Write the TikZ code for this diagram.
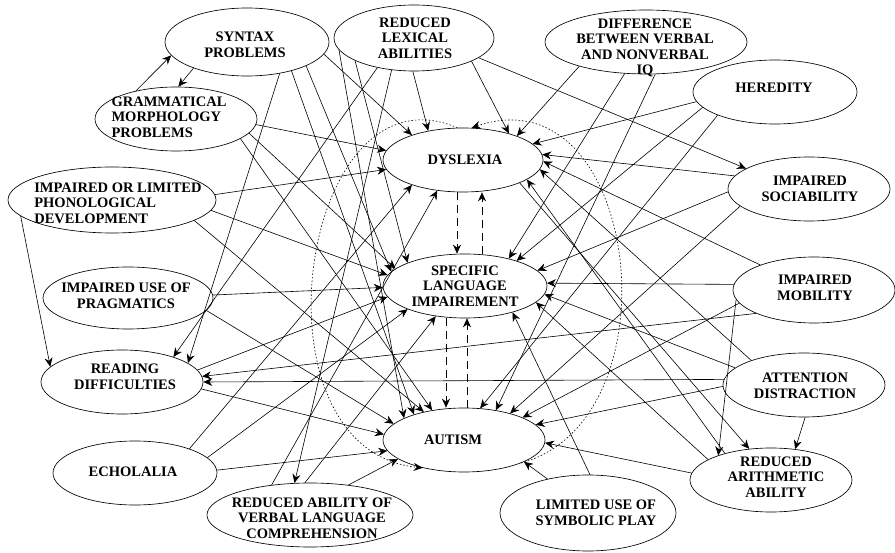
\documentclass[tikz,border=0pt]{standalone}
\usepackage{fontspec}
\setmainfont{Liberation Serif}
\usetikzlibrary{shapes.geometric,arrows.meta}
\begin{document}
\begin{tikzpicture}[x=1pt,y=-1pt,
  ell/.style={draw,ellipse,line width=0.65pt,inner sep=0pt},
  lbl/.style={font=\fontsize{14.5}{15.5}\selectfont\bfseries,align=center,inner sep=0pt},
  lbll/.style={lbl,align=left},
  arr/.style={line width=0.6pt,-{Stealth[length=9pt,width=8pt,inset=3pt]}},
  dsh/.style={arr,dash pattern=on 8pt off 5pt},
  dotarc/.style={arr,dash pattern=on 1.5pt off 2pt}]
\useasboundingbox (0,0) rectangle (895,553);
% ellipses
\node[ell,minimum width=164pt,minimum height=68pt] (syn) at (247,42) {};
\node[ell,minimum width=160pt,minimum height=66pt] (lex) at (414,38) {};
\node[ell,minimum width=202pt,minimum height=64pt] (diq) at (646,42) {};
\node[ell,minimum width=164pt,minimum height=64pt] (her) at (775,92) {};
\node[ell,minimum width=162pt,minimum height=64pt] (gram) at (176,119) {};
\node[ell,minimum width=160pt,minimum height=64pt] (dys) at (463,160) {};
\node[ell,minimum width=208pt,minimum height=66pt] (phon) at (112,200) {};
\node[ell,minimum width=162pt,minimum height=64pt] (soc) at (809,189) {};
\node[ell,minimum width=164pt,minimum height=64pt] (sli) at (465,286) {};
\node[ell,minimum width=170pt,minimum height=62pt] (prag) at (128,298) {};
\node[ell,minimum width=162pt,minimum height=66pt] (mob) at (814,290) {};
\node[ell,minimum width=162pt,minimum height=64pt] (read) at (122,382) {};
\node[ell,minimum width=162pt,minimum height=64pt] (att) at (804,385) {};
\node[ell,minimum width=162pt,minimum height=64pt] (aut) at (464,440) {};
\node[ell,minimum width=164pt,minimum height=64pt] (echo) at (135,473) {};
\node[ell,minimum width=206pt,minimum height=64pt] (comp) at (310,515) {};
\node[ell,minimum width=176pt,minimum height=76pt] (sym) at (588,513) {};
\node[ell,minimum width=162pt,minimum height=64pt] (ari) at (771,480) {};
% labels
\node[lbl] (syn-t) at (245,45) {SYNTAX\\PROBLEMS};
\node[lbl] (lex-t) at (415,38) {REDUCED\\LEXICAL\\ABILITIES};
\node[lbl] (diq-t) at (645,48) {DIFFERENCE\\BETWEEN VERBAL\\AND NONVERBAL\\IQ};
\node[lbl] (her-t) at (774,88) {HEREDITY};
\node[lbll] (gram-t) at (169,117) {GRAMMATICAL\\MORPHOLOGY\\PROBLEMS};
\node[lbl] (dys-t) at (465,160) {DYSLEXIA};
\node[lbll] (phon-t) at (118,203) {IMPAIRED OR LIMITED\\PHONOLOGICAL\\DEVELOPMENT};
\node[lbl] (soc-t) at (810,189) {IMPAIRED\\SOCIABILITY};
\node[lbl] (sli-t) at (465,286) {SPECIFIC\\LANGUAGE\\IMPAIREMENT};
\node[lbl] (prag-t) at (126,296) {IMPAIRED USE OF\\PRAGMATICS};
\node[lbl] (mob-t) at (815,288) {IMPAIRED\\MOBILITY};
\node[lbl] (read-t) at (125,377) {READING\\DIFFICULTIES};
\node[lbl] (att-t) at (805,386) {ATTENTION\\DISTRACTION};
\node[lbl] (aut-t) at (453,440) {AUTISM};
\node[lbl] (echo-t) at (133,472) {ECHOLALIA};
\node[lbl] (comp-t) at (312,518) {REDUCED ABILITY OF\\VERBAL LANGUAGE\\COMPREHENSION};
\node[lbl] (sym-t) at (596,513) {LIMITED USE OF\\SYMBOLIC PLAY};
\node[lbl] (ari-t) at (776,477) {REDUCED\\ARITHMETIC\\ABILITY};
% connectors
\draw[arr] (syn.206) -- (gram.86);
\draw[arr] (gram.145) -- (syn.190);
\draw[arr] (syn.-9) -- (dys.154);
\draw[arr] (syn.-44) -- (read.16);
\draw[arr] (syn.-22) -- (sli.169);
\draw[arr] (syn.-33) -- (aut.153);
\draw[arr] (lex.268) -- (dys.140);
\draw[arr] (lex.-22) -- (dys.30);
\draw[arr] (lex.-17) -- (soc.162);
\draw[arr] (lex.189) -- (aut.160);
\draw[arr] (lex.201) -- (sli.158);
\draw[arr] (lex.219) -- (read.26);
\draw[arr] (lex.235) -- (comp.116);
\draw[arr] (gram.-4) -- (dys.173);
\draw[arr] (gram.-17) -- (aut.137);
\draw[arr] (gram.-11) -- (sli.166);
\draw[arr] (phon.3) -- (dys.187);
\draw[arr] (phon.-6) -- (sli.172);
\draw[arr] (phon.190) -- (read.168);
\draw[arr] (phon.-14) -- (aut.145);
\draw[arr] (prag.2) -- (sli.181);
\draw[arr] (prag.-9) -- (aut.167);
\draw[arr] (read.9) -- (sli.188);
\draw[arr] (read.-5) -- (aut.176);
\draw[arr] (echo.2) -- (aut.188);
\draw[arr] (echo.12) -- (sli.202);
\draw[arr] (echo.24) -- (dys.206);
\draw[arr] (comp.142) -- (dys.230);
\draw[arr] (comp.99) -- (sli.226);
\draw[arr] (comp.38) -- (aut.196);
\draw[arr] (diq.200) -- (dys.24);
\draw[arr] (diq.236) -- (sli.32);
\draw[arr] (diq.286) -- (aut.43);
\draw[arr] (her.187) -- (dys.13);
\draw[arr] (her.192) -- (sli.26);
\draw[arr] (her.202) -- (aut.63);
\draw[arr] (soc.170) -- (dys.4);
\draw[arr] (soc.182) -- (sli.12);
\draw[arr] (soc.194) -- (aut.30);
\draw[arr] (mob.176) -- (sli.2);
\draw[arr] (mob.187) -- (ari.155);
\draw[arr] (mob.202) -- (read.4);
\draw[arr] (mob.190) -- (aut.21);
\draw[arr] (mob.155) -- (dys.-1);
\draw[arr] (att.176) -- (read.0);
\draw[arr] (att.181) -- (aut.12);
\draw[arr] (att.272) -- (ari.52);
\draw[arr] (att.166) -- (sli.-6);
\draw[arr] (att.155) -- (dys.-7);
\draw[arr] (ari.175) -- (aut.-2);
\draw[arr] (ari.150) -- (dys.-17);
\draw[arr] (ari.162) -- (sli.-13);
\draw[arr] (sym.140) -- (aut.-20);
\draw[arr] (sym.87) -- (sli.-29);
\draw[arr] (dys.-22) -- (ari.125);
% dashed links between the three central nodes
\draw[dsh] ([xshift=-6pt]dys.south) -- ([xshift=-8pt]sli.north);
\draw[dsh] ([xshift=17pt]sli.north) -- ([xshift=19pt]dys.south);
\draw[dsh] ([xshift=-19pt]sli.south) -- ([xshift=-18pt]aut.north);
\draw[dsh] ([xshift=3pt]aut.north) -- ([xshift=2pt]sli.south);
% dotted arcs
\draw[dotarc] (dys.100) .. controls (300,60) and (245,450) .. (aut.214);
\draw[dotarc] (aut.-22) .. controls (680,420) and (640,70) .. (dys.75);
\end{tikzpicture}
\end{document}
